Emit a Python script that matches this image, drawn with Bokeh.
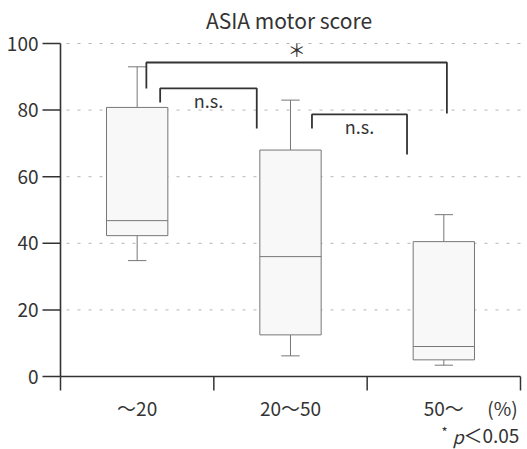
from bokeh.plotting import figure
from bokeh.models import Range1d
from bokeh.core.properties import value
from bokeh.embed import file_html
from bokeh.resources import INLINE

categories = ["～20", "20～50", "50～"]
whisker_low = [34.8, 6.2, 3.4]
q1 = [42.3, 12.5, 5.0]
median = [46.8, 36.0, 9.0]
q3 = [80.8, 68.0, 40.5]
whisker_high = [93.0, 83.0, 48.6]
y_ticks = [0, 20, 40, 60, 80, 100]
grid_values = [20, 40, 60, 80, 100]
x_ticks = [0, 1, 2, 3]

# significance brackets (data units): left x, right x, top y, left leg end, right leg end, label
br_x0 = [0.56, 0.65, 1.64]
br_x1 = [2.52, 1.28, 2.26]
br_top = [94.3, 86.5, 78.7]
br_y0 = [86.5, 82.3, 74.5]
br_y1 = [79.0, 74.5, 66.7]
br_text = ["＊", "n.s.", "n.s."]

FONT = "Noto Sans CJK JP"
TXT = "#333333"

W, H = 527, 449
X0PX, XSCALE = 60.0, 153.33      # pixel of x=0, pixels per category unit
Y0PX, YSCALE = 376.0, 3.33       # pixel of y=0, pixels per score unit

def dx(px):
    return px / XSCALE

def dy(px):
    return px / YSCALE

p = figure(width=W, height=H, output_backend="svg", toolbar_location=None,
           x_range=Range1d(-X0PX / XSCALE, (W - X0PX) / XSCALE),
           y_range=Range1d(-(H - Y0PX) / YSCALE, Y0PX / YSCALE),
           min_border=0, min_border_left=0, min_border_right=0,
           min_border_top=0, min_border_bottom=0)
p.axis.visible = False
p.grid.visible = False
p.outline_line_color = None
p.background_fill_color = "white"
p.border_fill_color = "white"

xmax = (W - X0PX) / XSCALE

# grid lines
p.segment(x0=[dx(6)] * len(grid_values), y0=grid_values, x1=[xmax] * len(grid_values),
          y1=grid_values, line_color="#b5b5b5", line_width=1, line_dash="3 8")

# y axis
p.segment(x0=[0], y0=[y_ticks[0]], x1=[0], y1=[y_ticks[-1]], line_color=TXT, line_width=1.6)
p.segment(x0=[-dx(18)] * len(y_ticks), y0=y_ticks, x1=[0] * len(y_ticks), y1=y_ticks,
          line_color=TXT, line_width=1.5)
p.text(x=[-dx(22)] * len(y_ticks), y=y_ticks, text=[str(t) for t in y_ticks],
       text_align="right", text_baseline="middle", text_font=value(FONT),
       text_font_size="19px", text_color=TXT)

# x axis
p.segment(x0=[x_ticks[0]], y0=[0], x1=[x_ticks[-1]], y1=[0], line_color=TXT, line_width=1.6)
p.segment(x0=x_ticks, y0=[0] * len(x_ticks), x1=x_ticks, y1=[-dy(14)] * len(x_ticks),
          line_color=TXT, line_width=1.5)

xs = [i + 0.5 for i in range(len(categories))]
p.text(x=xs, y=[-dy(31)] * len(xs), text=categories, text_align="center",
       text_baseline="middle", text_font=value(FONT), text_font_size="19px", text_color=TXT)
p.text(x=[dx(442)], y=[-dy(31)], text=["(%)"], text_align="center",
       text_baseline="middle", text_font=value(FONT), text_font_size="19px", text_color=TXT)

# boxes
bw = 0.2
cap = 0.06
BOX = "#777777"
p.segment(x0=xs, y0=q3, x1=xs, y1=whisker_high, line_color=BOX, line_width=1)
p.segment(x0=xs, y0=q1, x1=xs, y1=whisker_low, line_color=BOX, line_width=1)
p.segment(x0=[x - cap for x in xs], y0=whisker_high, x1=[x + cap for x in xs], y1=whisker_high,
          line_color=BOX, line_width=1)
p.segment(x0=[x - cap for x in xs], y0=whisker_low, x1=[x + cap for x in xs], y1=whisker_low,
          line_color=BOX, line_width=1)
p.quad(left=[x - bw for x in xs], right=[x + bw for x in xs], bottom=q1, top=q3,
       fill_color="#f8f8f8", line_color=BOX, line_width=1)
p.segment(x0=[x - bw for x in xs], y0=median, x1=[x + bw for x in xs], y1=median,
          line_color=BOX, line_width=1)

# brackets
p.multi_line(xs=[[a, a, b, b] for a, b in zip(br_x0, br_x1)],
             ys=[[y0, t, t, y1] for y0, t, y1 in zip(br_y0, br_top, br_y1)],
             line_color="#333333", line_width=1.8)
lab_x = [(a + b) / 2 for a, b in zip(br_x0, br_x1)]
lab_y = [t + dy(13) if s == "＊" else t - dy(12) for t, s in zip(br_top, br_text)]
p.text(x=lab_x, y=lab_y, text=br_text, text_align="center", text_baseline="middle",
       text_font=value(FONT), text_font_size="18px", text_color=TXT)

# title
p.text(x=[1.49], y=[dy(Y0PX - 19.5)], text=["ASIA motor score"], text_align="center",
       text_baseline="middle", text_font=value(FONT), text_font_size="21px", text_color=TXT)

# footnote
p.text(x=[dx(381)], y=[-dy(55)], text=["*"], text_align="left", text_baseline="middle",
       text_font=value(FONT), text_font_size="13px", text_color=TXT)
p.text(x=[dx(392)], y=[-dy(59)], text=["p"], text_align="left", text_baseline="middle",
       text_font=value(FONT), text_font_size="18px", text_font_style="italic", text_color=TXT)
p.text(x=[dx(403)], y=[-dy(58)], text=["＜0.05"], text_align="left", text_baseline="middle",
       text_font=value(FONT), text_font_size="19px", text_color=TXT)

open("out.html", "w").write(file_html(p, INLINE))
